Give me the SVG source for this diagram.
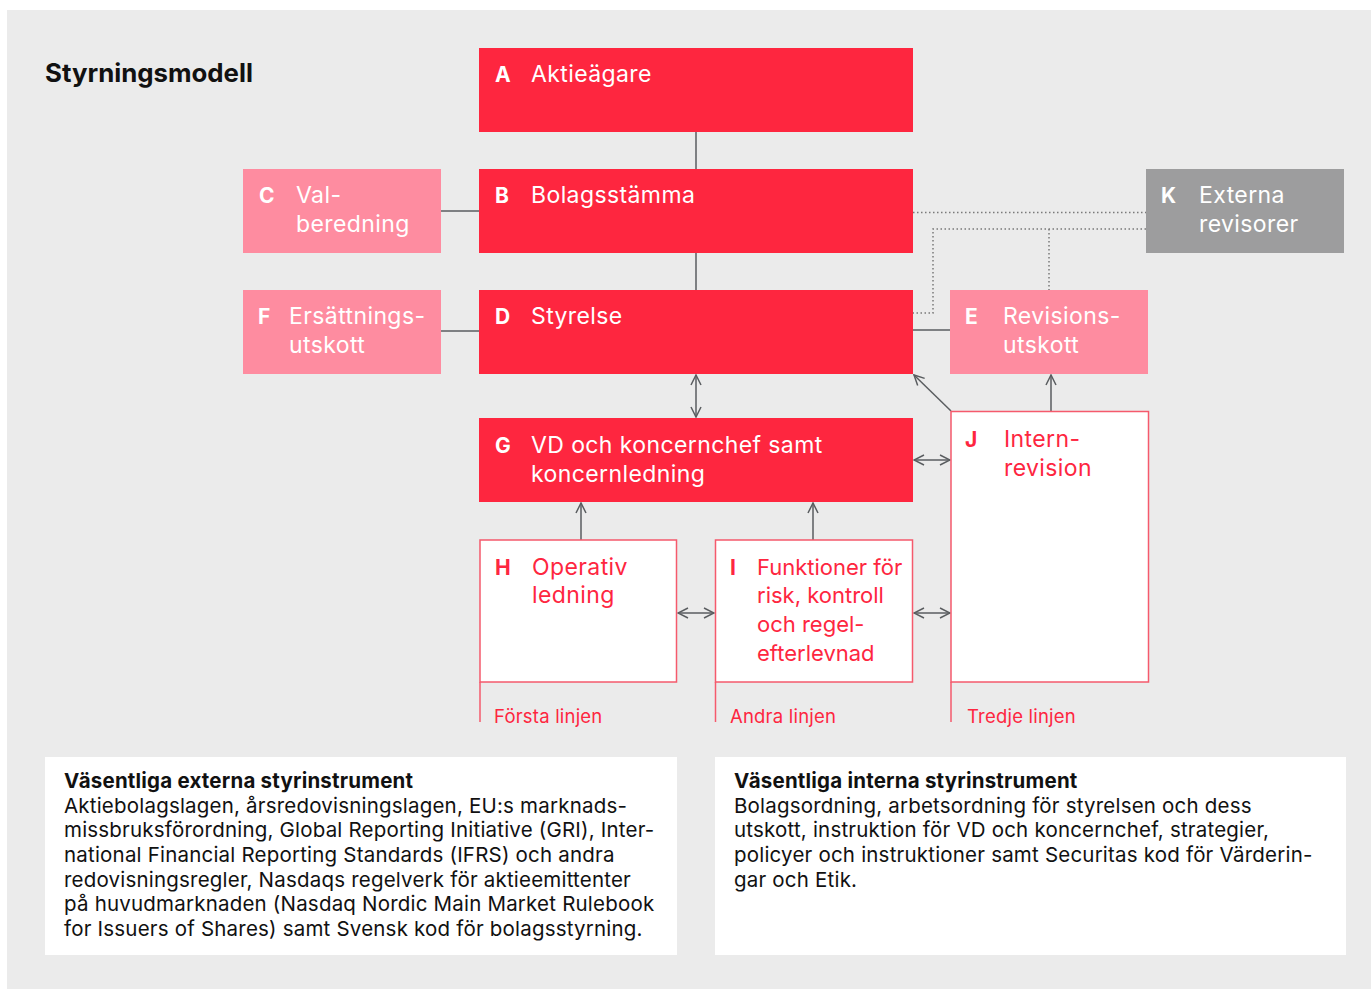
<svg xmlns="http://www.w3.org/2000/svg" width="1371" height="989" viewBox="0 0 1371 989">
<style>
.bg{fill:#ebebeb}
.red{fill:#fe263f}
.pink{fill:#fe8ca0}
.grey{fill:#9d9d9e}
.wbox{fill:#ffffff;stroke:#f55a6c;stroke-width:1.5}
.t{font-family:Inter,"Liberation Sans",sans-serif}
.nl{font-family:Inter,"Liberation Sans",sans-serif;font-size:21px;font-weight:700}
.nt{font-family:Inter,"Liberation Sans",sans-serif;font-size:23px;letter-spacing:0.4px}
.nti{font-family:Inter,"Liberation Sans",sans-serif;font-size:22px}
.w{fill:#ffffff}
.r{fill:#fe263f}
.ln{stroke:#5a5d60;stroke-width:1.5;fill:none}
.dot{stroke:#7a7a7a;stroke-width:1.5;fill:none;stroke-dasharray:1.5 2.5}
.rl{stroke:#f55a6c;stroke-width:1.5;fill:none}
.lab{font-family:Inter,"Liberation Sans",sans-serif;font-size:18.5px;letter-spacing:0.2px;fill:#fe263f}
.bt{font-family:Inter,"Liberation Sans",sans-serif;font-size:20.5px;letter-spacing:0.2px;fill:#111}
.bh{font-weight:700}
</style>
<defs>
<marker id="ah" viewBox="0 0 12 12" refX="11" refY="6" markerWidth="12" markerHeight="12" markerUnits="userSpaceOnUse" orient="auto-start-reverse">
<path d="M1,1 L11,6 L1,11" fill="none" stroke="#5a5d60" stroke-width="1.5"/>
</marker>
</defs>
<rect x="7" y="10" width="1364" height="979" class="bg"/>
<text x="45" y="82" class="t" font-size="25.8" font-weight="700" fill="#111">Styrningsmodell</text>

<g id="connectors">
<line x1="696" y1="132" x2="696" y2="169" class="ln"/>
<line x1="696" y1="253" x2="696" y2="290" class="ln"/>
<line x1="441" y1="211" x2="479" y2="211" class="ln"/>
<line x1="441" y1="331" x2="479" y2="331" class="ln"/>
<line x1="913" y1="330" x2="950" y2="330" class="ln"/>
<path d="M913,212.5 H1146" class="dot"/>
<path d="M1146,229 H933 V313 H913" class="dot"/>
<path d="M1049,229 V290" class="dot"/>
<line x1="696" y1="375" x2="696" y2="417" class="ln" marker-start="url(#ah)" marker-end="url(#ah)"/>
<line x1="951" y1="411" x2="914" y2="375" class="ln" marker-end="url(#ah)"/>
<line x1="1051" y1="411" x2="1051" y2="375" class="ln" marker-end="url(#ah)"/>
<line x1="914" y1="460" x2="950" y2="460" class="ln" marker-start="url(#ah)" marker-end="url(#ah)"/>
<line x1="581" y1="540" x2="581" y2="503" class="ln" marker-end="url(#ah)"/>
<line x1="813" y1="540" x2="813" y2="503" class="ln" marker-end="url(#ah)"/>
<line x1="678" y1="613" x2="714" y2="613" class="ln" marker-start="url(#ah)" marker-end="url(#ah)"/>
<line x1="914" y1="613" x2="950" y2="613" class="ln" marker-start="url(#ah)" marker-end="url(#ah)"/>
</g>

<g id="A"><rect x="479" y="48" width="434" height="84" class="red"/>
<text x="495" y="82" class="nl w">A</text><text x="531" y="82" class="nt w">Aktieägare</text></g>
<g id="B"><rect x="479" y="169" width="434" height="84" class="red"/>
<text x="495" y="203" class="nl w">B</text><text x="531" y="203" class="nt w">Bolagsstämma</text></g>
<g id="C"><rect x="243" y="169" width="198" height="84" class="pink"/>
<text x="259" y="203" class="nl w">C</text><text x="296" y="203" class="nt w">Val-</text><text x="296" y="232" class="nt w">beredning</text></g>
<g id="D"><rect x="479" y="290" width="434" height="84" class="red"/>
<text x="495" y="324" class="nl w">D</text><text x="531" y="324" class="nt w">Styrelse</text></g>
<g id="F"><rect x="243" y="290" width="198" height="84" class="pink"/>
<text x="258" y="324" class="nl w">F</text><text x="289" y="324" class="nt w">Ersättnings-</text><text x="289" y="353" class="nt w">utskott</text></g>
<g id="K"><rect x="1146" y="169" width="198" height="84" class="grey"/>
<text x="1161" y="203" class="nl w">K</text><text x="1199" y="203" class="nt w">Externa</text><text x="1199" y="232" class="nt w">revisorer</text></g>
<g id="E"><rect x="950" y="290" width="198" height="84" class="pink"/>
<text x="965" y="324" class="nl w">E</text><text x="1003" y="324" class="nt w">Revisions-</text><text x="1003" y="353" class="nt w">utskott</text></g>
<g id="G"><rect x="479" y="418" width="434" height="84" class="red"/>
<text x="495" y="453" class="nl w">G</text><text x="531" y="453" class="nt w">VD och koncernchef samt</text><text x="531" y="482" class="nt w">koncernledning</text></g>
<g id="H"><rect x="480" y="540" width="196.5" height="142" class="wbox"/>
<line x1="480" y1="682" x2="480" y2="722" class="rl"/>
<text x="495" y="575" class="nl r">H</text><text x="532" y="575" class="nt r">Operativ</text><text x="532" y="603" class="nt r">ledning</text>
<text x="494" y="723" class="lab">Första linjen</text></g>
<g id="I"><rect x="715.5" y="540" width="197" height="142" class="wbox"/>
<line x1="715.5" y1="682" x2="715.5" y2="722" class="rl"/>
<text x="730" y="575" class="nl r">I</text><text x="757" y="575" class="nti r">Funktioner för</text><text x="757" y="603" class="nti r">risk, kontroll</text><text x="757" y="632" class="nti r">och regel-</text><text x="757" y="661" class="nti r">efterlevnad</text>
<text x="730" y="723" class="lab">Andra linjen</text></g>
<g id="J"><rect x="951" y="411.5" width="197.5" height="270.5" class="wbox"/>
<line x1="951" y1="682" x2="951" y2="722" class="rl"/>
<text x="965" y="447" class="nl r">J</text><text x="1004" y="447" class="nt r">Intern-</text><text x="1004" y="476" class="nt r">revision</text>
<text x="967" y="723" class="lab">Tredje linjen</text></g>

<g id="extern"><rect x="45" y="757" width="632" height="198" fill="#fff"/>
<text class="bt"><tspan x="64" y="788" class="bh">Väsentliga externa styrinstrument</tspan>
<tspan x="64" y="813">Aktiebolagslagen, årsredovisningslagen, EU:s marknads-</tspan>
<tspan x="64" y="837">missbruksförordning, Global Reporting Initiative (GRI), Inter-</tspan>
<tspan x="64" y="862">national Financial Reporting Standards (IFRS) och andra</tspan>
<tspan x="64" y="887">redovisningsregler, Nasdaqs regelverk för aktieemittenter</tspan>
<tspan x="64" y="911">på huvudmarknaden (Nasdaq Nordic Main Market Rulebook</tspan>
<tspan x="64" y="936">for Issuers of Shares) samt Svensk kod för bolagsstyrning.</tspan></text></g>
<g id="intern"><rect x="715" y="757" width="631" height="198" fill="#fff"/>
<text class="bt"><tspan x="734" y="788" class="bh">Väsentliga interna styrinstrument</tspan>
<tspan x="734" y="813">Bolagsordning, arbetsordning för styrelsen och dess</tspan>
<tspan x="734" y="837">utskott, instruktion för VD och koncernchef, strategier,</tspan>
<tspan x="734" y="862">policyer och instruktioner samt Securitas kod för Värderin-</tspan>
<tspan x="734" y="887">gar och Etik.</tspan></text></g>
</svg>
